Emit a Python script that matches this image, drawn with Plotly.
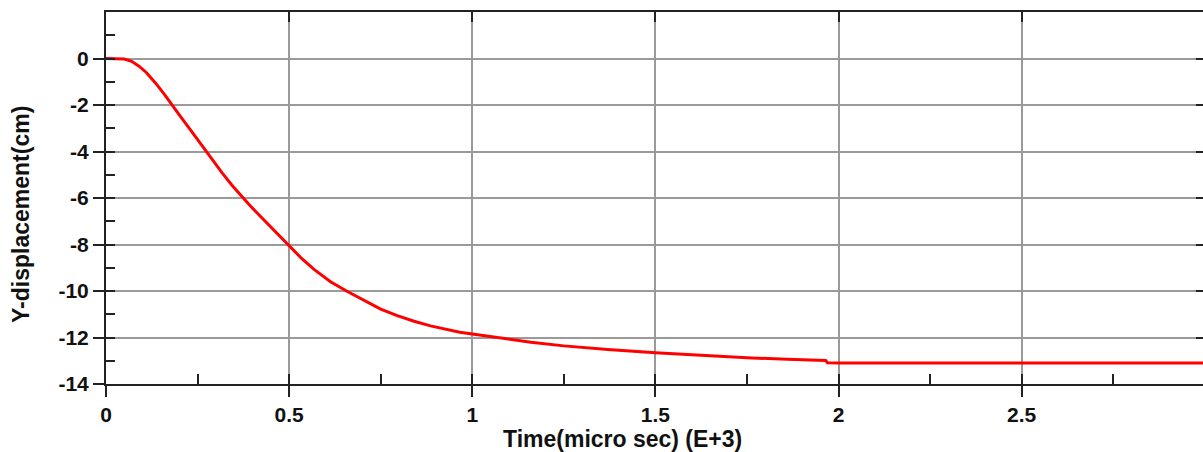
import plotly.graph_objects as go

# Data
time_e3 = [0.0, 0.03, 0.05, 0.07, 0.09, 0.11, 0.135, 0.16, 0.18, 0.2, 0.226, 0.25,
           0.271, 0.295, 0.317, 0.345, 0.371, 0.39, 0.408, 0.43, 0.453, 0.476, 0.5,
           0.534, 0.568, 0.613, 0.659, 0.705, 0.75, 0.795, 0.841, 0.886, 0.932, 0.966,
           1.0, 1.077, 1.16, 1.25, 1.37, 1.5, 1.62, 1.75, 1.86, 1.965, 1.97, 2.0, 2.5, 2.995]
y_disp = [0.0, 0.0, -0.02, -0.12, -0.33, -0.6, -1.05, -1.55, -2.0, -2.42, -2.97, -3.49,
          -3.96, -4.46, -4.92, -5.47, -5.95, -6.27, -6.57, -6.93, -7.3, -7.68, -8.08,
          -8.6, -9.07, -9.6, -10.02, -10.42, -10.78, -11.06, -11.3, -11.5, -11.67, -11.77,
          -11.85, -12.02, -12.2, -12.36, -12.52, -12.66, -12.77, -12.87, -12.94, -12.99,
          -13.09, -13.1, -13.1, -13.1]

x_major_vals = [0, 0.5, 1, 1.5, 2, 2.5]
x_major_text = ["0", "0.5", "1", "1.5", "2", "2.5"]
x_minor_vals = [0, 0.25, 0.5, 0.75, 1, 1.25, 1.5, 1.75, 2, 2.25, 2.5, 2.75]
y_major_vals = [0, -2, -4, -6, -8, -10, -12, -14]
y_major_text = ["0", "-2", "-4", "-6", "-8", "-10", "-12", "-14"]
y_minor_vals = [1, 0, -1, -2, -3, -4, -5, -6, -7, -8, -9, -10, -11, -12, -13, -14]

x_title = "Time(micro sec) (E+3)"
y_title = "Y-displacement(cm)"

X_RANGE = [0, 2.995]
Y_RANGE = [-14, 2]
FONT = "Liberation Sans"
AXC = "#222222"

fig = go.Figure()
fig.add_trace(go.Scatter(x=time_e3, y=y_disp, mode="lines",
                         line=dict(color="#ff0000", width=3),
                         showlegend=False, hoverinfo="skip"))
# invisible helper traces so the overlay axes (for inner ticks) get drawn
fig.add_trace(go.Scatter(x=time_e3, y=y_disp, xaxis="x2", yaxis="y2", mode="lines",
                         line=dict(width=0), opacity=0, showlegend=False, hoverinfo="skip"))
fig.add_trace(go.Scatter(x=time_e3, y=y_disp, xaxis="x3", yaxis="y3", mode="lines",
                         line=dict(width=0), opacity=0, showlegend=False, hoverinfo="skip"))

tickfont = dict(family=FONT, size=21, color="#111111", weight="bold")

fig.update_layout(
    width=1203, height=452,
    margin=dict(l=106, r=0, t=12, b=68),
    paper_bgcolor="white", plot_bgcolor="white",
    xaxis=dict(range=X_RANGE, tickmode="array", tickvals=x_major_vals, ticktext=x_major_text,
               ticks="outside", ticklen=11, tickwidth=2, tickcolor=AXC,
               showline=True, linecolor=AXC, linewidth=2,
               showgrid=True, gridcolor="#9a9a9a", gridwidth=2, zeroline=False,
               tickfont=tickfont),
    yaxis=dict(range=Y_RANGE, tickmode="array", tickvals=y_major_vals, ticktext=y_major_text,
               ticks="outside", ticklen=11, tickwidth=2, tickcolor=AXC,
               showline=True, linecolor=AXC, linewidth=2,
               showgrid=True, gridcolor="#9a9a9a", gridwidth=2, zeroline=False,
               tickfont=tickfont),
    xaxis2=dict(range=X_RANGE, overlaying="x", anchor="y", side="bottom",
                tickmode="array", tickvals=x_minor_vals, ticks="inside", ticklen=10,
                tickwidth=2, tickcolor=AXC, showticklabels=False, showgrid=False,
                zeroline=False, showline=False),
    yaxis2=dict(range=Y_RANGE, overlaying="y", anchor="x", side="left",
                tickmode="array", tickvals=y_minor_vals, ticks="inside", ticklen=9,
                tickwidth=2, tickcolor=AXC, showticklabels=False, showgrid=False,
                zeroline=False, showline=False),
    xaxis3=dict(range=X_RANGE, overlaying="x", anchor="y", side="top",
                tickmode="array", tickvals=x_major_vals, ticks="inside", ticklen=10,
                tickwidth=2, tickcolor=AXC, showticklabels=False, showgrid=False,
                zeroline=False, showline=True, linecolor=AXC, linewidth=2),
    yaxis3=dict(range=Y_RANGE, overlaying="y", anchor="x", side="right",
                tickmode="array", tickvals=y_major_vals, ticks="inside", ticklen=7,
                tickwidth=2, tickcolor=AXC, showticklabels=False, showgrid=False,
                zeroline=False, showline=False),
    annotations=[
        dict(text=x_title, xref="paper", yref="paper", x=(622 - 106) / 1097,
             y=(384 - 439) / 372, xanchor="center", yanchor="middle", showarrow=False,
             font=dict(family=FONT, size=23, color="#111111", weight="bold")),
        dict(text=y_title, xref="paper", yref="paper", x=(21 - 106) / 1097,
             y=(384 - 215) / 372, xanchor="center", yanchor="middle", showarrow=False,
             textangle=-90,
             font=dict(family=FONT, size=23, color="#111111", weight="bold")),
    ],
)

fig.write_html("out.html", config={"displayModeBar": False},
               post_script="document.body.style.margin='0';"
                           "document.body.style.overflow='hidden';")
